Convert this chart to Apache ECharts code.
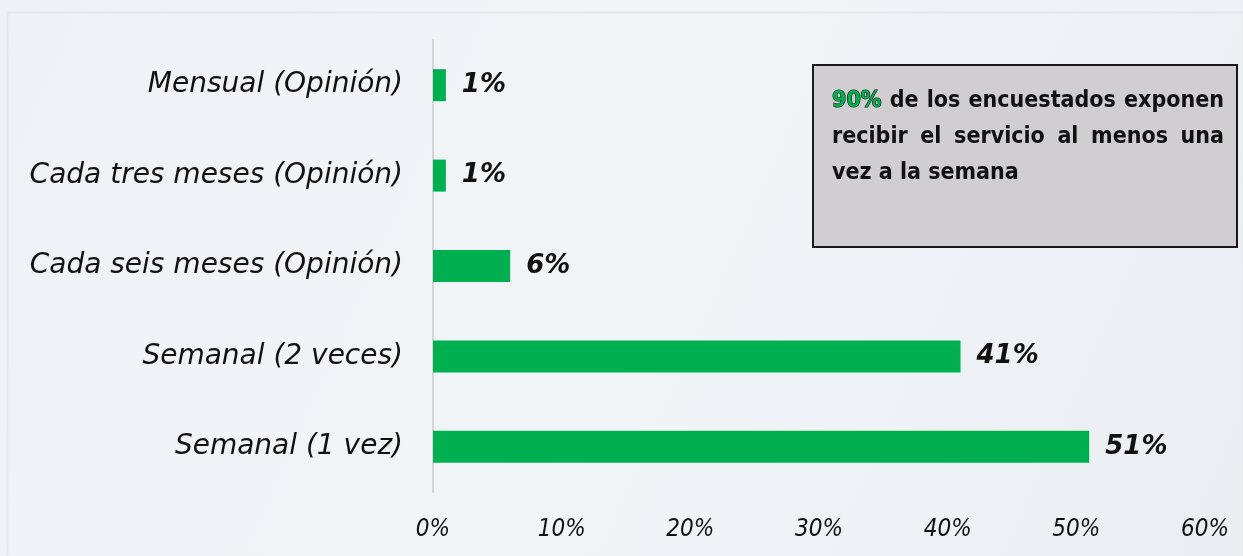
<!DOCTYPE html>
<html>
<head>
<meta charset="utf-8">
<script src="https://cdn.jsdelivr.net/npm/echarts@6/dist/echarts.min.js"></script>
<style>
  html, body { margin: 0; padding: 0; }
  #chart { width: 1243px; height: 556px; }
</style>
</head>
<body>
<div id="chart"></div>
<script>
// categories bottom to top
const categorias = ['Semanal (1 vez)', 'Semanal (2 veces)', 'Cada seis meses (Opinión)', 'Cada tres meses (Opinión)', 'Mensual (Opinión)'];
const valores = [51, 41, 6, 1, 1];
const ticksX = [0, 10, 20, 30, 40, 50, 60];
const notaDestaque = '90%';
const notaLineas = [
  '90% de los encuestados exponen',
  'recibir el servicio al menos una',
  'vez a la semana'
];

const fontePrincipal = '"DejaVu Sans", sans-serif';
const fonteEixo = '"DejaVu Sans Condensed", "DejaVu Sans", sans-serif';
const fonteNota = '"DejaVu Sans Condensed", sans-serif';

const myChart = echarts.init(document.getElementById('chart'));

// caixa de texto justificada (como no original)
const caixa = { x: 812, y: 64, w: 424, h: 182, padL: 20, padR: 12, top: 90, passo: 36 };
const fonteCanvas = 'bold 23px ' + fonteNota;
const ctx = document.createElement('canvas').getContext('2d');
ctx.font = fonteCanvas;

function textoPalavras() {
  const els = [];
  const larguraUtil = caixa.w - caixa.padL - caixa.padR;
  notaLineas.forEach((linha, i) => {
    const palavras = linha.split(' ');
    const larguras = palavras.map(p => ctx.measureText(p).width);
    const soma = larguras.reduce((a, b) => a + b, 0);
    const ultima = i === notaLineas.length - 1;
    const espaco = ultima ? ctx.measureText(' ').width : (larguraUtil - soma) / (palavras.length - 1);
    let x = caixa.x + caixa.padL;
    palavras.forEach((p, j) => {
      const destaque = p === notaDestaque;
      els.push({
        type: 'text',
        x: x,
        y: caixa.top + i * caixa.passo,
        z: 11,
        style: {
          text: p,
          font: fonteCanvas,
          fill: destaque ? '#00b050' : '#111',
          stroke: destaque ? '#111' : null,
          lineWidth: destaque ? 1.2 : 0,
          textVerticalAlign: 'top'
        }
      });
      x += larguras[j] + espaco;
    });
  });
  return els;
}

const option = {
  backgroundColor: new echarts.graphic.LinearGradient(0, 0, 1, 1, [
    { offset: 0, color: '#eef2f6' },
    { offset: 0.5, color: '#f2f5f8' },
    { offset: 1, color: '#eaeef3' }
  ]),
  grid: { left: 433, right: 38, top: 40, bottom: 64 },
  xAxis: {
    type: 'value',
    min: 0,
    max: 60,
    interval: 10,
    axisLine: { show: false },
    axisTick: { show: false },
    splitLine: { show: false },
    axisLabel: {
      margin: 26,
      formatter: v => ticksX.includes(v) ? v + '%' : '',
      color: '#111',
      fontSize: 24,
      fontStyle: 'italic',
      fontFamily: fonteEixo
    }
  },
  yAxis: {
    type: 'category',
    data: categorias,
    axisLine: { show: true, lineStyle: { color: '#d6d6d6', width: 2 } },
    axisTick: { show: false },
    axisLabel: {
      margin: 30,
      color: '#111',
      fontSize: 28,
      fontStyle: 'italic',
      fontFamily: fontePrincipal
    }
  },
  series: [{
    type: 'bar',
    data: valores,
    barWidth: 32,
    itemStyle: { color: '#00b050' },
    label: {
      show: true,
      position: 'right',
      distance: 16,
      formatter: '{c}%',
      color: '#111',
      fontSize: 26,
      fontWeight: 'bold',
      fontStyle: 'italic',
      fontFamily: fontePrincipal
    }
  }],
  graphic: [
    {
      type: 'rect',
      left: 5,
      top: 10,
      shape: { width: 1236, height: 546 },
      style: { fill: 'none', stroke: '#e4e7ea', lineWidth: 2 },
      silent: true
    },
    {
      type: 'rect',
      left: caixa.x,
      top: caixa.y,
      shape: { width: caixa.w, height: caixa.h },
      style: { fill: '#d0ced0', stroke: '#1a1a1a', lineWidth: 2 },
      z: 10
    }
  ].concat(textoPalavras())
};

myChart.setOption(option);
</script>
</body>
</html>
